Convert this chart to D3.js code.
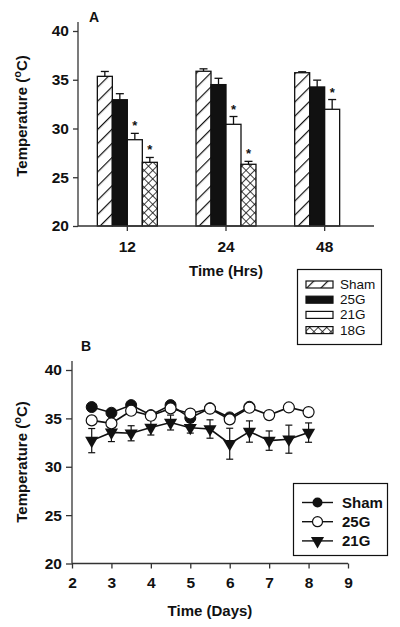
<!DOCTYPE html>
<html><head><meta charset="utf-8">
<script src="https://cdn.jsdelivr.net/npm/d3@7"></script>
<style>
body{margin:0;background:#fff;}
text{font-family:"Liberation Sans",Arial,sans-serif;}
</style></head>
<body>
<svg id="c" width="400" height="627"></svg>
<script>
// ---- Panel A data ----
const timesA = ["12","24","48"];
const groupsA = ["Sham","25G","21G","18G"];
const shamA = [35.35, 35.87, 35.72];
const g25A = [32.95, 34.5, 34.26];
const g21A = [28.85, 30.43, 31.97];
const g18A = [26.53, 26.33, null];
const shamAErr = [0.5, 0.25, 0.1];
const g25AErr = [0.62, 0.65, 0.7];
const g21AErr = [0.65, 0.8, 1.0];
const g18AErr = [0.5, 0.3, null];
const sigA = [[false,false,true,true],[false,false,true,true],[false,false,true,false]];
const yTicksA = [20,25,30,35,40];

// ---- Panel B data ----
const daysSham = [2.5,3,3.5,4,4.5,5,5.5,6,6.5];
const shamB = [36.17,35.58,36.37,35.34,36.37,35.05,36.05,35.1,36.2];
const days25 = [2.5,3,3.5,4,4.5,5,5.5,6,6.5,7,7.5,8];
const g25B = [34.79,34.48,35.79,35.27,36.03,35.5,36.0,34.9,36.1,35.34,36.13,35.65];
const days21 = [2.5,3,3.5,4,4.5,5,5.5,6,6.5,7,7.5,8];
const g21B = [32.7,33.55,33.46,34.05,34.57,34.03,33.9,32.38,33.64,32.7,32.85,33.53];
const g21BErr = [1.25,0.95,0.78,0.77,0.77,0.55,0.95,1.6,1.1,1.0,1.45,1.0];
const xTicksB = [2,3,4,5,6,7,8,9];
const yTicksB = [20,25,30,35,40];

const svg = d3.select("#c");
const ink = "#111";

function yTitle(g, x, y) {
  const t = g.append("text").attr("transform", `translate(${x},${y}) rotate(-90)`)
    .attr("text-anchor","middle").attr("font-size",15).attr("font-weight","bold").attr("fill",ink);
  t.append("tspan").text("Temperature (");
  t.append("tspan").text("o").attr("font-size",11).attr("dy",-6);
  t.append("tspan").text("C)").attr("dy",6);
}

// patterns
const defs = svg.append("defs");
const ph = defs.append("pattern").attr("id","hatch").attr("patternUnits","userSpaceOnUse")
  .attr("width",10).attr("height",10).attr("patternTransform","rotate(45)");
ph.append("rect").attr("width",10).attr("height",10).attr("fill","#fff");
ph.append("line").attr("x1",0).attr("y1",0).attr("x2",0).attr("y2",10).attr("stroke",ink).attr("stroke-width",2.4);
const px = defs.append("pattern").attr("id","cross").attr("patternUnits","userSpaceOnUse")
  .attr("width",6).attr("height",6).attr("patternTransform","rotate(45)");
px.append("rect").attr("width",6).attr("height",6).attr("fill","#fff");
px.append("line").attr("x1",0).attr("y1",0).attr("x2",0).attr("y2",6).attr("stroke",ink).attr("stroke-width",1.6);
px.append("line").attr("x1",0).attr("y1",0).attr("x2",6).attr("y2",0).attr("stroke",ink).attr("stroke-width",1.6);
const fills = {"Sham":"url(#hatch)","25G":ink,"21G":"#fff","18G":"url(#cross)"};

// ===== Panel A =====
const gA = svg.append("g");
const x0 = d3.scaleBand().domain(timesA).range([78,374]).paddingInner(0).paddingOuter(0);
const x1 = d3.scaleBand().domain(groupsA).range([0,x0.bandwidth()]).paddingInner(0).paddingOuter(1.29);
const yA = d3.scaleLinear().domain([20,40]).range([226,31]);

const valsA = {"Sham":shamA,"25G":g25A,"21G":g21A,"18G":g18A};
const errsA = {"Sham":shamAErr,"25G":g25AErr,"21G":g21AErr,"18G":g18AErr};
const barData = [];
timesA.forEach((t,i)=>groupsA.forEach((s,j)=>{
  if (valsA[s][i]!=null) barData.push({t,s,v:valsA[s][i],e:errsA[s][i],sig:sigA[i][j]});
}));

const bars = gA.selectAll("g.bar").data(barData).join("g");
bars.append("line")
  .attr("x1",d=>x0(d.t)+x1(d.s)+x1.bandwidth()/2).attr("x2",d=>x0(d.t)+x1(d.s)+x1.bandwidth()/2)
  .attr("y1",d=>yA(d.v)).attr("y2",d=>yA(d.v+d.e)).attr("stroke",ink).attr("stroke-width",1.3);
bars.append("line")
  .attr("x1",d=>x0(d.t)+x1(d.s)+x1.bandwidth()/2-4).attr("x2",d=>x0(d.t)+x1(d.s)+x1.bandwidth()/2+4)
  .attr("y1",d=>yA(d.v+d.e)).attr("y2",d=>yA(d.v+d.e)).attr("stroke",ink).attr("stroke-width",1.3);
bars.append("rect")
  .attr("x",d=>x0(d.t)+x1(d.s)).attr("width",x1.bandwidth())
  .attr("y",d=>yA(d.v)).attr("height",d=>yA(20)-yA(d.v))
  .attr("fill",d=>fills[d.s]).attr("stroke",ink).attr("stroke-width",1.3);
bars.filter(d=>d.sig).append("text")
  .attr("x",d=>x0(d.t)+x1(d.s)+x1.bandwidth()/2).attr("y",d=>yA(d.v+d.e)-3)
  .attr("text-anchor","middle").attr("font-size",13).attr("font-weight","bold").attr("fill",ink).text("*");

// axes A
const axA = gA.append("g").attr("transform","translate(78,0)")
  .call(d3.axisLeft(yA).tickValues(yTicksA).tickSize(5).tickPadding(4));
axA.select(".domain").attr("d","M0,22V226").attr("stroke","#333").attr("stroke-width",1.3);
axA.selectAll(".tick line").attr("stroke","#333").attr("stroke-width",1.3);
axA.selectAll(".tick text").attr("font-size",15.5).attr("font-weight","bold").attr("fill",ink)
  .attr("font-family","Liberation Sans, Arial, sans-serif");
const axAx = gA.append("g").attr("transform","translate(0,226)")
  .call(d3.axisBottom(x0).tickSize(5).tickPadding(10));
axAx.select(".domain").attr("d","M78,0H374").attr("stroke","#333").attr("stroke-width",1.3);
axAx.selectAll(".tick line").attr("stroke","#333").attr("stroke-width",1.3);
axAx.selectAll(".tick text").attr("font-size",15.5).attr("font-weight","bold").attr("fill",ink)
  .attr("font-family","Liberation Sans, Arial, sans-serif");
gA.append("text").attr("x",226).attr("y",276).attr("text-anchor","middle")
  .attr("font-size",15).attr("font-weight","bold").attr("fill",ink).text("Time (Hrs)");
yTitle(gA, 27, 116);
gA.append("text").attr("x",94).attr("y",22).attr("text-anchor","middle")
  .attr("font-size",14).attr("font-weight","bold").attr("fill",ink).text("A");

// legend A
const lgA = gA.append("g");
lgA.append("rect").attr("x",297.5).attr("y",269.5).attr("width",84).attr("height",75)
  .attr("fill","#fff").attr("stroke",ink).attr("stroke-width",1.2);
groupsA.forEach((s,i)=>{
  const cy = 284.5 + i*15.2;
  lgA.append("rect").attr("x",306).attr("y",cy-3.5).attr("width",27).attr("height",7)
    .attr("fill",fills[s]).attr("stroke",ink).attr("stroke-width",1.2);
  lgA.append("text").attr("x",340).attr("y",cy+4.5).attr("font-size",13.5).attr("fill",ink).text(s);
});

// ===== Panel B =====
const gB = svg.append("g");
const xB = d3.scaleLinear().domain([2,9]).range([72,348]);
const yB = d3.scaleLinear().domain([20,40]).range([563.5,370]);

const line = d3.line().x(d=>xB(d[0])).y(d=>yB(d[1]));
const sham = daysSham.map((d,i)=>[d,shamB[i]]);
const s25 = days25.map((d,i)=>[d,g25B[i]]);
const s21 = days21.map((d,i)=>[d,g21B[i],g21BErr[i]]);

// error bars 21G
const eb = gB.selectAll("g.eb").data(s21).join("g");
eb.append("line").attr("x1",d=>xB(d[0])).attr("x2",d=>xB(d[0]))
  .attr("y1",d=>yB(d[1]-d[2])).attr("y2",d=>yB(d[1]+d[2])).attr("stroke",ink).attr("stroke-width",1.2);
[1,-1].forEach(sg=>{
  eb.append("line").attr("x1",d=>xB(d[0])-3.5).attr("x2",d=>xB(d[0])+3.5)
    .attr("y1",d=>yB(d[1]+sg*d[2])).attr("y2",d=>yB(d[1]+sg*d[2])).attr("stroke",ink).attr("stroke-width",1.2);
});

gB.append("path").datum(s21).attr("d",line).attr("fill","none").attr("stroke",ink).attr("stroke-width",1.6);
gB.append("path").datum(sham).attr("d",line).attr("fill","none").attr("stroke",ink).attr("stroke-width",1.6);
gB.append("path").datum(s25).attr("d",line).attr("fill","none").attr("stroke",ink).attr("stroke-width",1.6);

const tri = d3.symbol().type(d3.symbolTriangle).size(75);
gB.selectAll("path.tri").data(s21).join("path")
  .attr("d",tri).attr("transform",d=>`translate(${xB(d[0])},${yB(d[1])}) rotate(180)`).attr("fill",ink);
gB.selectAll("circle.sh").data(sham).join("circle")
  .attr("cx",d=>xB(d[0])).attr("cy",d=>yB(d[1])).attr("r",5.5).attr("fill",ink).attr("stroke",ink);
gB.selectAll("circle.o").data(s25).join("circle")
  .attr("cx",d=>xB(d[0])).attr("cy",d=>yB(d[1])).attr("r",5.5).attr("fill","#fff").attr("stroke",ink).attr("stroke-width",1.2);

// axes B
const axB = gB.append("g").attr("transform","translate(72,0)")
  .call(d3.axisLeft(yB).tickValues(yTicksB).tickSize(6).tickPadding(4));
axB.select(".domain").attr("d","M0,361V563.5").attr("stroke","#333").attr("stroke-width",1.3);
axB.selectAll(".tick line").attr("stroke","#333").attr("stroke-width",1.3);
axB.selectAll(".tick text").attr("font-size",15.5).attr("font-weight","bold").attr("fill",ink)
  .attr("font-family","Liberation Sans, Arial, sans-serif");
const axBx = gB.append("g").attr("transform","translate(0,563.5)")
  .call(d3.axisBottom(xB).tickValues(xTicksB).tickFormat(d3.format("d")).tickSize(5).tickPadding(8));
axBx.select(".domain").attr("d","M72,0H348").attr("stroke","#333").attr("stroke-width",1.3);
axBx.selectAll(".tick line").attr("stroke","#333").attr("stroke-width",1.3);
axBx.selectAll(".tick text").attr("font-size",15.5).attr("font-weight","bold").attr("fill",ink)
  .attr("font-family","Liberation Sans, Arial, sans-serif");
gB.append("text").attr("x",210).attr("y",616).attr("text-anchor","middle")
  .attr("font-size",15).attr("font-weight","bold").attr("fill",ink).text("Time (Days)");
yTitle(gB, 27, 462);
gB.append("text").attr("x",86).attr("y",351).attr("text-anchor","middle")
  .attr("font-size",14).attr("font-weight","bold").attr("fill",ink).text("B");

// legend B
const lgB = gB.append("g");
lgB.append("rect").attr("x",293.5).attr("y",483.5).attr("width",94).attr("height",72)
  .attr("fill","#fff").attr("stroke",ink).attr("stroke-width",1.2);
const lgItems = ["Sham","25G","21G"];
lgItems.forEach((s,i)=>{
  const cy = 502.5 + i*19.2;
  lgB.append("line").attr("x1",302).attr("x2",333).attr("y1",cy).attr("y2",cy).attr("stroke",ink).attr("stroke-width",1.4);
  if (s==="Sham") lgB.append("circle").attr("cx",317.5).attr("cy",cy).attr("r",5).attr("fill",ink);
  else if (s==="25G") lgB.append("circle").attr("cx",317.5).attr("cy",cy).attr("r",5).attr("fill","#fff").attr("stroke",ink).attr("stroke-width",1.2);
  else lgB.append("path").attr("d",tri).attr("transform",`translate(317.5,${cy}) rotate(180)`).attr("fill",ink);
  lgB.append("text").attr("x",342).attr("y",cy+5).attr("font-size",15).attr("font-weight","bold").attr("fill",ink).text(s);
});
</script>
</body></html>
